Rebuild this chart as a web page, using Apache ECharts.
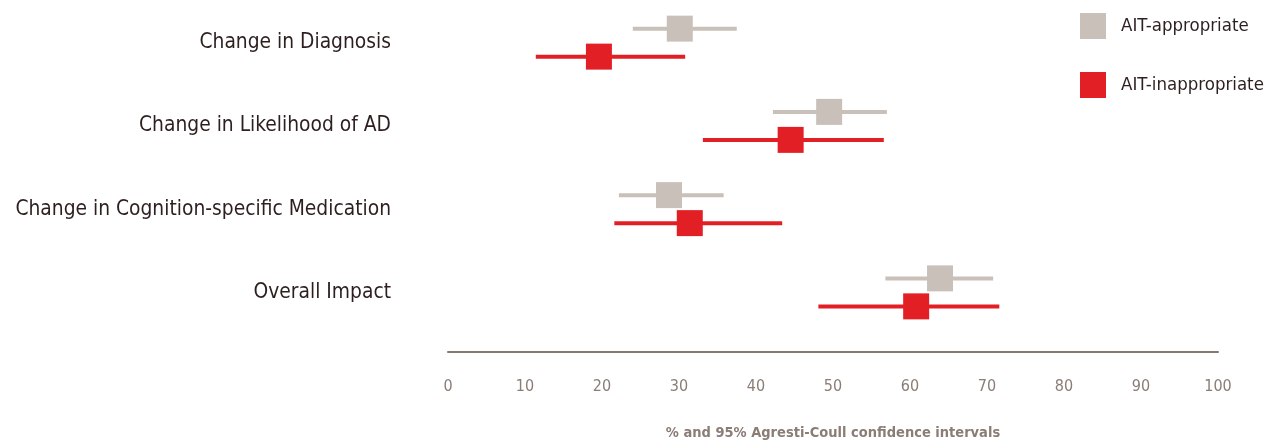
<!DOCTYPE html>
<html>
<head>
<meta charset="utf-8">
<script src="https://cdn.jsdelivr.net/npm/echarts@6/dist/echarts.min.js"></script>
<style>
  html, body { margin: 0; padding: 0; background: #ffffff; }
  #chart { width: 1270px; height: 440px; }
</style>
</head>
<body>
<div id="chart"></div>
<script>
// Outcome measures (top to bottom)
var categories = [
  'Change in Diagnosis',
  'Change in Likelihood of AD',
  'Change in Cognition-specific Medication',
  'Overall Impact'
];

// AIT-appropriate: point estimate and 95% CI bounds (%)
var appropriateValue = [30.1, 49.5, 28.7, 63.9];
var appropriateLow   = [24.0, 42.2, 22.2, 56.8];
var appropriateHigh  = [37.5, 57.0, 35.8, 70.8];

// AIT-inappropriate: point estimate and 95% CI bounds (%)
var inappropriateValue = [19.6, 44.5, 31.4, 60.8];
var inappropriateLow   = [11.4, 33.1, 21.6, 48.1];
var inappropriateHigh  = [30.8, 56.6, 43.4, 71.6];

var xTicks = [0, 10, 20, 30, 40, 50, 60, 70, 80, 90, 100];

var GRAY = '#c9c0ba';
var RED = '#e31f26';
var FONT = 'DejaVu Sans Condensed, Roboto, sans-serif';

function buildRows(values, lows, highs) {
  return categories.map(function (c, i) {
    return [i, values[i], lows[i], highs[i]];
  });
}

// Draws a CI whisker with a square marker, shifted vertically within the category band
function makeRenderer(color, shift) {
  return function (params, api) {
    var cat = api.value(0);
    var mid = api.coord([api.value(1), cat]);
    var lo = api.coord([api.value(2), cat]);
    var hi = api.coord([api.value(3), cat]);
    var y = mid[1] + shift;
    var s = 26;
    return {
      type: 'group',
      children: [
        {
          type: 'line',
          shape: { x1: lo[0], y1: y, x2: hi[0], y2: y },
          style: { stroke: color, lineWidth: 4 }
        },
        {
          type: 'rect',
          shape: { x: mid[0] - s / 2, y: y - s / 2, width: s, height: s },
          style: { fill: color }
        }
      ]
    };
  };
}

var chart = echarts.init(document.getElementById('chart'), null, { renderer: 'canvas' });

chart.setOption({
  backgroundColor: '#ffffff',
  animation: false,
  legend: {
    orient: 'vertical',
    left: 1080,
    top: 13,
    itemWidth: 26,
    itemHeight: 26,
    itemGap: 33,
    icon: 'rect',
    padding: 0,
    textStyle: { fontFamily: FONT, fontSize: 18.5, color: '#2e1f1f', padding: [0, 0, 0, 10] },
    data: ['AIT-appropriate', 'AIT-inappropriate']
  },
  grid: { left: 448, right: 52, top: 1, height: 333, outerBoundsMode: 'none', containLabel: false },
  xAxis: {
    type: 'value',
    min: 0,
    max: 100,
    interval: 10,
    offset: 18,
    axisLine: { show: true, lineStyle: { color: '#867770', width: 2 } },
    axisTick: { show: false },
    splitLine: { show: false },
    axisLabel: {
      margin: 27,
      color: '#8a7d76',
      fontSize: 16,
      fontFamily: FONT,
      formatter: function (v) { return xTicks.indexOf(v) >= 0 ? String(v) : ''; }
    },
    name: '% and 95% Agresti-Coull confidence intervals',
    nameLocation: 'middle',
    nameGap: 74,
    nameTextStyle: { color: '#8a7d76', fontSize: 14.5, fontWeight: 'bold', fontFamily: FONT }
  },
  yAxis: {
    type: 'category',
    inverse: true,
    data: categories,
    axisLine: { show: false },
    axisTick: { show: false },
    splitLine: { show: false },
    axisLabel: {
      margin: 57,
      color: '#2e1f1f',
      fontSize: 20.8,
      fontFamily: FONT
    }
  },
  series: [
    {
      name: 'AIT-appropriate',
      type: 'custom',
      itemStyle: { color: GRAY },
      encode: { x: [1, 2, 3], y: 0 },
      renderItem: makeRenderer(GRAY, -14),
      data: buildRows(appropriateValue, appropriateLow, appropriateHigh)
    },
    {
      name: 'AIT-inappropriate',
      type: 'custom',
      itemStyle: { color: RED },
      encode: { x: [1, 2, 3], y: 0 },
      renderItem: makeRenderer(RED, 14),
      data: buildRows(inappropriateValue, inappropriateLow, inappropriateHigh)
    }
  ]
});
</script>
</body>
</html>
